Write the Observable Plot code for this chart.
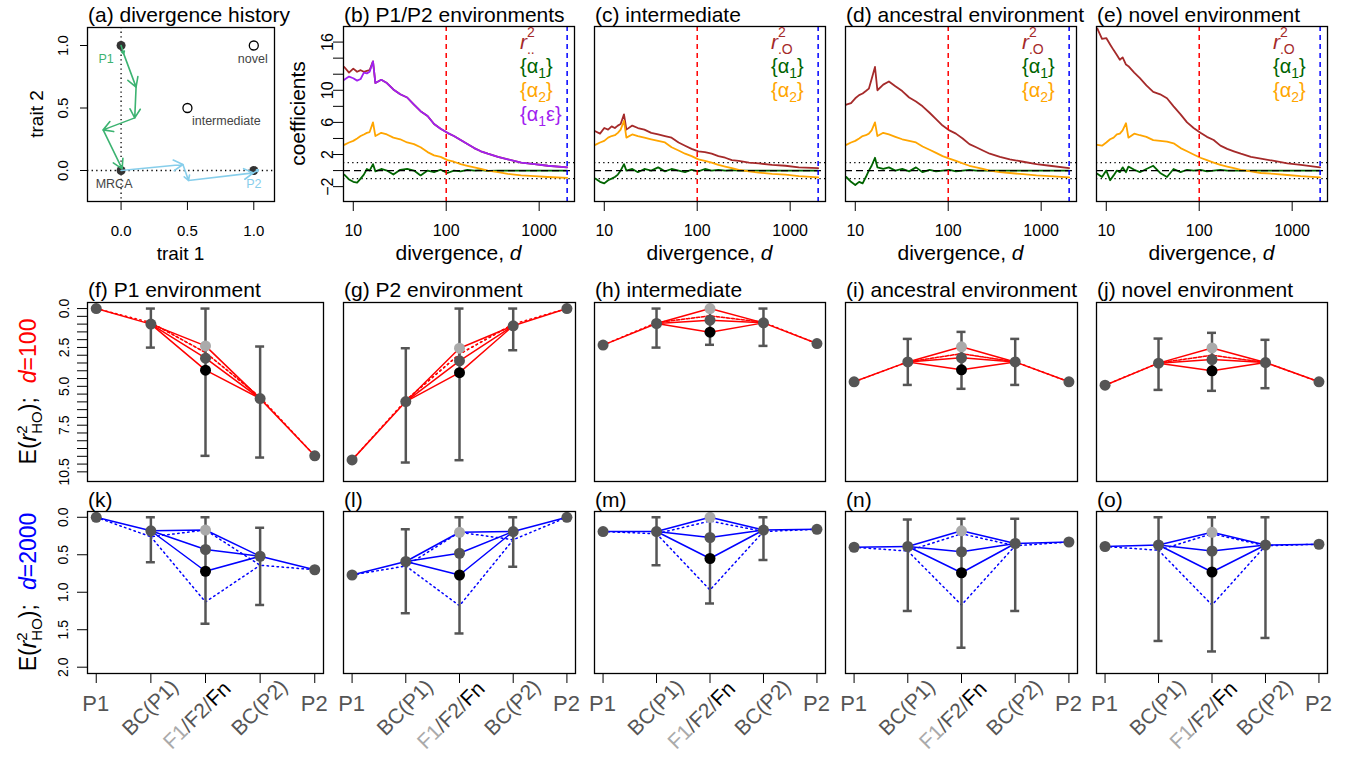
<!DOCTYPE html>
<html>
<head>
<meta charset="utf-8">
<script src="https://cdn.jsdelivr.net/npm/d3@7"></script>
<script src="https://cdn.jsdelivr.net/npm/@observablehq/plot@0.6"></script>
<style>
html,body{margin:0;padding:0;background:#fff;}
#fig{position:relative;width:1346px;height:758px;overflow:hidden;background:#fff;}
</style>
</head>
<body>
<div id="fig"></div>
<script>
// ---------------- data ----------------
// (a) divergence history
const histNames = ["MRCA", "P1", "P2", "intermediate", "novel"];
const histTrait1 = [0, 0, 1, 0.5, 1];
const histTrait2 = [0, 1, 0, 0.5, 1];
const pathP1Trait1 = [0, 0.02, 0.113, 0.103, -0.135, 0.008];
const pathP1Trait2 = [1, 0.933, 0.667, 0.421, 0.325, 0.013];
const pathP2Trait1 = [0, 0.466, 0.508, 0.997, 1.035];
const pathP2Trait2 = [0, 0.048, -0.08, -0.019, 0.005];
const traitTicks = [0, 0.5, 1];

// (b)-(e) coefficients vs divergence d
const divergence = [8, 9, 10, 11, 12, 13, 14, 15, 16.3, 17.3, 20, 23, 27, 32, 38, 45, 53, 63, 74, 87, 103, 121, 143, 169, 200, 236, 280, 360, 460, 640, 890, 1240, 2000];
const b_r2      = [12.9, 12.2, 12.7, 12.3, 12.5, 12.3, 12.4, 12.5, 13.6, 10.9, 11.3, 10.9, 10.1, 9.5, 9.1, 8.2, 7.4, 6.8, 5.8, 5.2, 4.7, 4.3, 3.8, 3.3, 2.8, 2.4, 2.1, 1.7, 1.4, 1.0, 0.8, 0.6, 0.4];
const b_alpha1  = [-0.5, -1.1, -1.4, -1.5, -1.0, -0.5, 0.2, 0.0, 0.8, -0.1, 0.2, 0.0, -0.5, 0.1, 0.2, 0.0, -0.6, 0.0, -0.2, 0.1, -0.3, 0.0, -0.1, 0.1, 0.0, 0.05, -0.05, 0.0, 0.0, 0.0, 0.0, 0.0, 0.0];
const b_alpha2  = [3.2, 3.5, 3.7, 4.0, 4.3, 4.5, 4.7, 4.8, 6.0, 4.3, 4.7, 4.5, 4.1, 3.9, 3.5, 3.3, 2.9, 2.3, 1.9, 1.7, 1.3, 1.1, 0.8, 0.6, 0.4, 0.2, 0.0, -0.2, -0.4, -0.6, -0.7, -0.8, -0.9];
const b_alpha1e = [11.3, 11.7, 11.5, 11.2, 11.4, 12.2, 12.1, 12.3, 13.6, 10.9, 11.3, 10.9, 10.1, 9.5, 9.1, 8.2, 7.4, 6.8, 5.8, 5.2, 4.7, 4.3, 3.8, 3.3, 2.8, 2.4, 2.1, 1.7, 1.4, 1.0, 0.8, 0.6, 0.4];
const c_r2      = [4.9, 4.6, 5.3, 5.1, 5.5, 5.3, 5.6, 5.8, 7.0, 5.1, 5.6, 5.3, 5.1, 4.7, 4.5, 4.3, 4.1, 3.5, 3.1, 2.7, 2.4, 2.3, 2.1, 1.8, 1.6, 1.3, 1.2, 1.0, 0.9, 0.7, 0.6, 0.4, 0.3];
const c_alpha1  = [-1.0, -1.4, -1.6, -1.2, -1.0, -0.8, -0.5, 0.0, 0.8, 0.0, 0.2, -0.2, 0.2, 0.0, 0.4, -0.1, 0.2, 0.0, -0.2, 0.1, -0.1, 0.2, 0.0, 0.1, 0.0, 0.05, 0.0, 0.0, 0.0, 0.0, 0.0, 0.0, 0.0];
const c_alpha2  = [3.2, 3.5, 3.7, 4.1, 4.3, 4.4, 4.7, 5.1, 6.2, 4.1, 4.5, 4.3, 4.1, 3.9, 3.7, 3.5, 2.9, 2.5, 2.1, 1.8, 1.4, 1.2, 1.0, 0.7, 0.5, 0.3, 0.1, -0.1, -0.25, -0.4, -0.5, -0.7, -0.85];
const d_r2      = [8.2, 8.4, 9.0, 9.4, 9.6, 9.9, 10.2, 11.4, 12.9, 10.0, 10.7, 11.1, 10.5, 9.9, 9.1, 8.6, 8.0, 7.2, 6.4, 5.6, 5.0, 4.6, 4.0, 3.3, 2.9, 2.5, 2.1, 1.7, 1.4, 1.1, 0.8, 0.6, 0.3];
const d_alpha1  = [-0.8, -1.4, -1.8, -1.4, -1.6, -0.8, 0.0, 0.6, 1.6, 0.4, 0.2, 0.4, 0.0, 0.2, -0.1, 0.4, -0.2, 0.1, -0.1, 0.0, 0.1, -0.1, 0.0, 0.1, 0.0, 0.0, 0.0, 0.0, 0.0, 0.0, 0.0, 0.0, 0.0];
const d_alpha2  = [3.2, 3.5, 3.7, 4.0, 4.3, 4.4, 4.6, 5.0, 6.0, 4.3, 4.7, 4.5, 4.2, 3.9, 3.7, 3.5, 3.0, 2.6, 2.2, 1.8, 1.5, 1.2, 0.9, 0.6, 0.4, 0.2, 0.0, -0.2, -0.3, -0.45, -0.6, -0.7, -0.85];
const e_r2      = [17.7, 16.4, 16.5, 15.7, 15.0, 14.4, 13.8, 14.1, 13.2, 13.0, 12.2, 11.5, 10.6, 9.8, 9.5, 9.0, 8.0, 7.0, 6.0, 5.3, 4.7, 4.2, 3.8, 3.1, 2.7, 2.4, 2.1, 1.7, 1.5, 1.2, 0.9, 0.7, 0.4];
const e_alpha1  = [-0.4, -0.8, 0.0, -1.2, -0.6, 0.0, -0.2, 0.4, -0.2, 0.5, 0.1, -0.2, 0.2, 0.6, -0.3, -0.8, 0.2, -0.2, 0.1, 0.0, 0.1, -0.1, 0.0, 0.1, 0.0, 0.0, 0.0, 0.0, 0.0, 0.0, 0.0, 0.0, 0.0];
const e_alpha2  = [3.2, 3.1, 3.5, 3.9, 4.1, 4.5, 4.6, 5.0, 5.9, 4.1, 4.6, 4.4, 4.2, 3.8, 3.7, 3.6, 3.4, 2.8, 2.4, 2.0, 1.6, 1.3, 1.0, 0.7, 0.5, 0.3, 0.1, -0.1, -0.3, -0.4, -0.55, -0.7, -0.85];
const coefTicksX = [10, 100, 1000];
const coefTicksY = [-2, 0, 2, 4, 6, 8, 10, 12, 14, 16];
const coefLabelsY = [-2, 2, 6, 10, 16];
const markedD = [100, 2000];

// (f)-(o) expected r2_HO across cross types
const hybridPanels = ["f", "g", "h", "i", "j", "k", "l", "m", "n", "o"];
const crossCats = ["P1", "BC(P1)", "F1/F2/Fn", "BC(P2)", "P2"];
const obsP1   = [0, 9.73, 2.35, 4.71, 4.93, 0, 0.77, 0.19, 0.40, 0.39];
const obsBC1  = [1.0, 5.98, 0.96, 3.43, 3.51, 0.18, 0.59, 0.19, 0.39, 0.37];
const obsF1   = [2.4, 2.55, 0.0, 2.46, 2.53, 0.17, 0.20, 0.0, 0.18, 0.20];
const obsF2   = [3.19, 3.36, 0.75, 3.17, 3.28, 0.43, 0.48, 0.27, 0.46, 0.45];
const obsFn   = [3.96, 4.12, 1.52, 3.94, 4.0, 0.72, 0.77, 0.55, 0.74, 0.73];
const obsBC2  = [5.79, 1.11, 0.92, 3.43, 3.47, 0.52, 0.19, 0.17, 0.35, 0.37];
const obsP2   = [9.47, 0, 2.25, 4.71, 4.71, 0.70, 0, 0.16, 0.33, 0.36];
const lowBC1  = [0, 2.55, 0, 1.95, 1.93, 0, 0.16, 0, 0.03, 0];
const highBC1 = [2.51, 9.9, 2.51, 4.91, 5.23, 0.60, 1.28, 0.64, 1.25, 1.65];
const lowF    = [0, 0, 0, 1.5, 1.56, 0, 0, 0, 0.02, 0];
const highF   = [9.47, 9.75, 2.33, 5.16, 5.29, 1.42, 1.55, 1.15, 1.74, 1.79];
const lowBC2  = [2.44, 0, 0, 1.95, 2.01, 0.14, 0, 0, 0.02, 0];
const highBC2 = [9.58, 2.68, 2.4, 4.91, 5.12, 1.17, 0.66, 0.57, 1.25, 1.61];
const predBC1 = [0.9, 5.9, 0.9, 3.43, 3.5, 0.26, 0.65, 0.22, 0.45, 0.44];
const predFa  = [2.83, 2.93, 0.47, 2.9, 3.0, 0.17, 0.2, 0.05, 0.22, 0.22];
const predFb  = [2.83, 2.93, 0.47, 2.9, 3.0, 1.13, 1.18, 0.97, 1.17, 1.17];
const predBC2 = [5.7, 1.0, 0.88, 3.43, 3.47, 0.64, 0.3, 0.19, 0.38, 0.38];
const d100Ticks = [0, 0.5, 1, 1.5, 2, 2.5, 3, 3.5, 4, 4.5, 5, 5.5, 6, 6.5, 7, 7.5, 8, 8.5, 9, 9.5, 10, 10.5];
const d100Labels = [0, 2.5, 5, 7.5, 10.5];
const d2000Ticks = [0, 0.5, 1, 1.5, 2];

// ---------------- drawing ----------------
const FONT = '"Liberation Sans", Arial, Helvetica, sans-serif';
const fig = document.getElementById("fig");
const ML = 90, MR = 30, MT = 40, MB = 90;
const DOT = "1.3,3.3";
const BROWN = "#a52a2a", DGREEN = "#006400", ORANGE = "#ffa500", PURPLE = "#a020f0";
const GREY = "#555555";

function mount(frame, opts) {
  const [x0, y0, x1, y1] = frame;
  const p = Plot.plot({
    width: x1 - x0 + ML + MR, height: y1 - y0 + MT + MB,
    marginLeft: ML, marginRight: MR, marginTop: MT, marginBottom: MB,
    style: {background: "none", overflow: "visible", fontFamily: FONT, color: "black"},
    ...opts
  });
  p.style.position = "absolute";
  p.style.left = (x0 - ML) + "px";
  p.style.top = (y0 - MT) + "px";
  p.style.maxWidth = "none";
  fig.appendChild(p);
  return p;
}

// (a)
const histData = histNames.map((name, i) => ({name, x: histTrait1[i], y: histTrait2[i]}));
const pick = (...n) => histData.filter(d => n.includes(d.name));
const segs = (xs, ys) => xs.slice(1).map((_, i) => ({x1: xs[i], y1: ys[i], x2: xs[i + 1], y2: ys[i + 1]}));
const frameA = [87, 27, 274, 201];
mount(frameA, {
  x: {domain: [-0.253, 1.156], label: null},
  y: {domain: [-0.248, 1.144], label: null},
  marks: [
    Plot.ruleX([0], {stroke: "black", strokeDasharray: DOT, strokeWidth: 1.3}),
    Plot.ruleY([0], {stroke: "black", strokeDasharray: DOT, strokeWidth: 1.3}),
    Plot.dot(pick("MRCA", "P1", "P2"), {x: "x", y: "y", r: 4.5, fill: "#333"}),
    Plot.dot(pick("intermediate", "novel"), {x: "x", y: "y", r: 4.5, fill: "white", stroke: "black", strokeWidth: 1.3}),
    Plot.arrow(segs(pathP1Trait1, pathP1Trait2), {x1: "x1", y1: "y1", x2: "x2", y2: "y2", stroke: "#3cb371", strokeWidth: 1.6, headLength: 10, headAngle: 60}),
    Plot.arrow(segs(pathP2Trait1, pathP2Trait2), {x1: "x1", y1: "y1", x2: "x2", y2: "y2", stroke: "#87ceeb", strokeWidth: 1.6, headLength: 10, headAngle: 60}),
    Plot.text(pick("P1"), {x: "x", y: "y", text: "name", dx: -15, dy: 13, fill: "#3cb371", fontSize: 12.5}),
    Plot.text(pick("P2"), {x: "x", y: "y", text: "name", dx: 0, dy: 13, fill: "#87ceeb", fontSize: 12.5}),
    Plot.text(pick("MRCA"), {x: "x", y: "y", text: "name", dx: -7, dy: 13, fill: "#444", fontSize: 12.5}),
    Plot.text(pick("novel"), {x: "x", y: "y", text: "name", dx: -1, dy: 13, fill: "#444", fontSize: 12.5}),
    Plot.text(pick("intermediate"), {x: "x", y: "y", text: "name", dx: 4.5, dy: 13, textAnchor: "start", fill: "#444", fontSize: 12.5}),
    Plot.frame({stroke: "black", strokeWidth: 1.3}),
    Plot.axisX({ticks: traitTicks, tickFormat: d3.format(".1f"), tickSize: 9, tickPadding: 15, fontSize: 15, label: null}),
    Plot.axisY({ticks: traitTicks, tickFormat: d3.format(".1f"), tickSize: 7, tickPadding: 13, tickRotate: -90, fontSize: 15, label: null})
  ]
});

// (b)-(e)
const coefRows = vals => divergence.map((d, i) => ({d, v: vals[i]}));
const coefPanels = [
  {frame: [343, 26, 574, 201], series: [[b_r2, BROWN], [b_alpha1, DGREEN], [b_alpha2, ORANGE], [b_alpha1e, PURPLE]], showY: true},
  {frame: [594, 26, 825, 201], series: [[c_r2, BROWN], [c_alpha1, DGREEN], [c_alpha2, ORANGE]]},
  {frame: [845, 26, 1076, 201], series: [[d_r2, BROWN], [d_alpha1, DGREEN], [d_alpha2, ORANGE]]},
  {frame: [1096, 26, 1327, 201], series: [[e_r2, BROWN], [e_alpha1, DGREEN], [e_alpha2, ORANGE]]}
];
for (const cp of coefPanels) {
  const marks = [
    Plot.ruleY([1, -1], {stroke: "black", strokeDasharray: DOT, strokeWidth: 1.2}),
    ...cp.series.map(([vals, color]) => Plot.line(coefRows(vals), {x: "d", y: "v", stroke: color, strokeWidth: 1.8})),
    Plot.ruleY([0], {stroke: "black", strokeDasharray: "7,4", strokeWidth: 1.3}),
    Plot.ruleX([markedD[0]], {stroke: "red", strokeDasharray: "5,4", strokeWidth: 1.5}),
    Plot.ruleX([markedD[1]], {stroke: "blue", strokeDasharray: "5,4", strokeWidth: 1.5}),
    Plot.frame({stroke: "black", strokeWidth: 1.3}),
    Plot.axisX({ticks: coefTicksX, tickFormat: d => String(d), tickSize: 10, tickPadding: 13, fontSize: 16, label: null})
  ];
  if (cp.showY) {
    marks.push(Plot.axisY({ticks: coefTicksY, tickSize: 10, fill: "none", label: null}));
    marks.push(Plot.axisY({ticks: coefLabelsY, tickFormat: d => String(d).replace("-", "\u2212"), tickSize: 0, tickPadding: 11, tickRotate: -90, fontSize: 16, label: null}));
  }
  mount(cp.frame, {
    x: {type: "log", domain: [7.85, 2400], label: null},
    y: {domain: [-3.85, 17.94], label: null, axis: cp.showY ? undefined : null},
    marks
  });
}

// (f)-(o)
const hybridFrames = [
  [87, 302, 323, 481], [343, 302, 575, 481], [594, 302, 825, 481], [845, 302, 1077, 481], [1096, 302, 1327, 481],
  [87, 511, 323, 673], [343, 511, 575, 673], [594, 511, 825, 673], [845, 511, 1077, 673], [1096, 511, 1327, 673]
];
const hybridPlots = [];
hybridPanels.forEach((id, i) => {
  const row2 = i < 5;
  const color = row2 ? "#ff0000" : "#0000ff";
  const line = [], pred = [];
  const push = (arr, key, pts) => pts.forEach(([x, y]) => arr.push({key, x, y}));
  push(line, "p1", [[1, obsP1[i]], [2, obsBC1[i]]]);
  push(line, "f1", [[2, obsBC1[i]], [3, obsF1[i]], [4, obsBC2[i]]]);
  push(line, "f2", [[2, obsBC1[i]], [3, obsF2[i]], [4, obsBC2[i]]]);
  push(line, "fn", [[2, obsBC1[i]], [3, obsFn[i]], [4, obsBC2[i]]]);
  push(line, "p2", [[4, obsBC2[i]], [5, obsP2[i]]]);
  push(pred, "a", [[1, obsP1[i]], [2, predBC1[i]], [3, predFa[i]], [4, predBC2[i]], [5, obsP2[i]]]);
  push(pred, "b", [[2, predBC1[i]], [3, predFb[i]], [4, predBC2[i]]]);
  const bars = [{x: 2, lo: lowBC1[i], hi: highBC1[i]}, {x: 3, lo: lowF[i], hi: highF[i]}, {x: 4, lo: lowBC2[i], hi: highBC2[i]}];
  const caps = bars.flatMap(b => [{x: b.x, y: b.lo}, {x: b.x, y: b.hi}]);
  const greyPts = [{x: 1, y: obsP1[i]}, {x: 2, y: obsBC1[i]}, {x: 4, y: obsBC2[i]}, {x: 5, y: obsP2[i]}, {x: 3, y: obsF2[i]}];
  const marks = [
    Plot.line(pred, {x: "x", y: "y", z: "key", stroke: color, strokeWidth: 1.5, strokeDasharray: "1.5,3.5"}),
    Plot.line(line, {x: "x", y: "y", z: "key", stroke: color, strokeWidth: 1.5}),
    Plot.ruleX(bars, {x: "x", y1: "lo", y2: "hi", stroke: GREY, strokeWidth: 2.5}),
    Plot.ruleY(caps, {y: "y", x1: "x", x2: "x", insetLeft: -4.5, insetRight: -4.5, stroke: GREY, strokeWidth: 2.5}),
    Plot.dot([{x: 3, y: obsF1[i]}], {x: "x", y: "y", r: 5.5, fill: "#aaaaaa"}),
    Plot.dot(greyPts, {x: "x", y: "y", r: 5.5, fill: GREY}),
    Plot.dot([{x: 3, y: obsFn[i]}], {x: "x", y: "y", r: 5.5, fill: "black"}),
    Plot.frame({stroke: "black", strokeWidth: 1.3})
  ];
  const firstCol = i % 5 === 0;
  if (firstCol && row2) {
    marks.push(Plot.axisY({ticks: d100Ticks, tickSize: 10, fill: "none", label: null}));
    marks.push(Plot.axisY({ticks: d100Labels, tickFormat: d3.format(".1f"), tickSize: 0, tickPadding: 19, tickRotate: -90, fontSize: 14, label: null}));
  }
  if (firstCol && !row2) {
    marks.push(Plot.axisY({ticks: d2000Ticks, tickFormat: d3.format(".1f"), tickSize: 10, tickPadding: 10, tickRotate: -90, fontSize: 14, label: null}));
  }
  if (!row2) marks.push(Plot.axisX({ticks: [1, 2, 3, 4, 5], tickSize: 10, fill: "none", label: null}));
  const p = mount(hybridFrames[i], {
    x: {domain: [0.84, 5.16], label: null, axis: row2 ? null : undefined},
    y: {domain: row2 ? [-0.39, 11.12] : [-0.077, 2.084], reverse: true, label: null, axis: firstCol ? undefined : null},
    marks
  });
  hybridPlots.push(p);
});

// ---------------- text overlay ----------------
const ov = d3.select(fig).append("svg")
  .attr("width", 1346).attr("height", 758)
  .style("position", "absolute").style("left", "0px").style("top", "0px").style("overflow", "visible")
  .attr("font-family", FONT);
function label(x, y, parts, {anchor = "start", size = 21, rotate = 0, fill = "black"} = {}) {
  const t = ov.append("text")
    .attr("transform", `translate(${x},${y})${rotate ? ` rotate(${rotate})` : ""}`)
    .attr("text-anchor", anchor).attr("font-size", size).attr("fill", fill)
    .style("white-space", "pre");
  for (const p of (typeof parts === "string" ? [{t: parts}] : parts)) {
    const s = t.append("tspan").text(p.t);
    if (p.fill) s.attr("fill", p.fill);
    if (p.dx != null) s.attr("dx", p.dx);
    if (p.dy != null) s.attr("dy", p.dy);
    if (p.size) s.attr("font-size", p.size);
    if (p.it) s.attr("font-style", "italic");
  }
  return t;
}

// titles
const titles = [
  ["(a) divergence history", frameA, 22],
  ["(b) P1/P2 environments", coefPanels[0].frame, 22],
  ["(c) intermediate", coefPanels[1].frame, 22],
  ["(d) ancestral environment", coefPanels[2].frame, 22],
  ["(e) novel environment", coefPanels[3].frame, 22],
  ["(f) P1 environment", hybridFrames[0], 297],
  ["(g) P2 environment", hybridFrames[1], 297],
  ["(h) intermediate", hybridFrames[2], 297],
  ["(i) ancestral environment", hybridFrames[3], 297],
  ["(j) novel environment", hybridFrames[4], 297],
  ["(k)", hybridFrames[5], 507],
  ["(l)", hybridFrames[6], 507],
  ["(m)", hybridFrames[7], 507],
  ["(n)", hybridFrames[8], 507],
  ["(o)", hybridFrames[9], 507]
];
for (const [t, f, y] of titles) label(f[0] + 1, y, t, {size: 21});

// axis titles
label((frameA[0] + frameA[2]) / 2, 260, "trait 1", {anchor: "middle", size: 19});
label(43, (frameA[1] + frameA[3]) / 2, "trait 2", {anchor: "middle", size: 19, rotate: -90});
label(305, (26 + 201) / 2, "coefficients", {anchor: "middle", size: 21, rotate: -90});
for (const cp of coefPanels) {
  label((cp.frame[0] + cp.frame[2]) / 2, 260, [{t: "divergence, "}, {t: "d", it: 1}], {anchor: "middle", size: 21});
}

// legends (b)-(e)
const legY = [48.5, 72.5, 96.5, 120.5];
coefPanels.forEach((cp, k) => {
  const x = cp.frame[2] - 54;
  label(x, legY[0], [{t: "r", it: 1}, {t: "2", size: 14, dy: -11.5}, {t: k === 0 ? ".." : ".O", size: 14, dx: -7.8, dy: 16.5}], {size: 21, fill: BROWN});
  label(x, legY[1], [{t: "{\u03b1"}, {t: "1", size: 14, dy: 5}, {t: "}", dy: -5}], {size: 20, fill: DGREEN});
  label(x, legY[2], [{t: "{\u03b1"}, {t: "2", size: 14, dy: 5}, {t: "}", dy: -5}], {size: 20, fill: ORANGE});
  if (k === 0) label(x, legY[3], [{t: "{\u03b1"}, {t: "1", size: 14, dy: 5}, {t: "\u03b5}", dy: -5}], {size: 20, fill: PURPLE});
});

// row y labels
function rowLabel(yc, dtext, color) {
  label(36, yc, [
    {t: "E("}, {t: "r", it: 1}, {t: "2", size: 15, dy: -9}, {t: "HO", size: 15, dx: -8.3, dy: 15}, {t: ");", dy: -6},
    {t: "d", it: 1, fill: color, dx: 14}, {t: "=" + dtext, fill: color}
  ], {anchor: "middle", size: 23, rotate: -90});
}
rowLabel((302 + 481) / 2, "100", "#ff0000");
rowLabel((511 + 673) / 2, "2000", "#0000ff");

// category labels under bottom row
hybridPlots.slice(5).forEach((p, k) => {
  const f = hybridFrames[5 + k];
  const sx = p.scale("x");
  const px = v => f[0] - ML + sx.apply(v);
  const base = f[3];
  label(px(1), base + 38, crossCats[0], {anchor: "middle", size: 22, fill: GREY});
  label(px(5), base + 38, crossCats[4], {anchor: "middle", size: 22, fill: GREY});
  label(px(2) + 29, base + 15, crossCats[1], {anchor: "end", size: 21, rotate: -45, fill: GREY});
  label(px(4) + 29, base + 15, crossCats[3], {anchor: "end", size: 21, rotate: -45, fill: GREY});
  const parts = crossCats[2].split("/");
  label(px(3) + 27, base + 17, [{t: parts[0], fill: "#aaaaaa"}, {t: "/" + parts[1] + "/", fill: GREY}, {t: parts[2], fill: "black"}], {anchor: "end", size: 21, rotate: -45});
});
</script>
</body>
</html>
